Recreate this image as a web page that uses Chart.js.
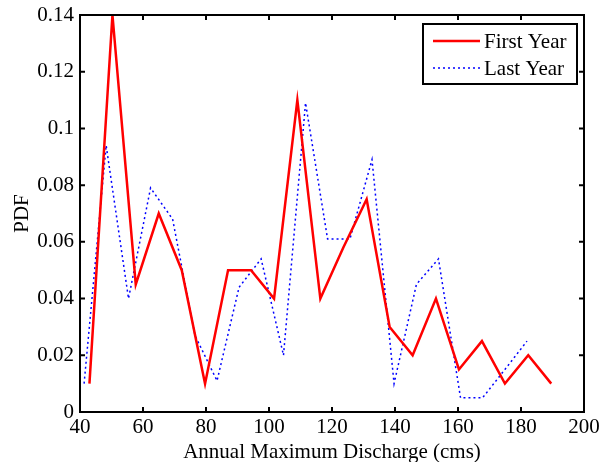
<!DOCTYPE html>
<html>
<head>
<meta charset="utf-8">
<script src="https://cdn.jsdelivr.net/npm/chart.js@4"></script>
<style>
  html, body { margin: 0; padding: 0; background: #fff; }
  #wrap { width: 604px; height: 462px; }
</style>
</head>
<body>
<div id="wrap"><canvas id="pdf-chart"></canvas></div>
<script>
// values
const firstYearX = [43, 50.3, 57.7, 65, 72.3, 79.7, 87, 94.3, 101.6, 109, 116.3, 123.6, 131, 138.3, 145.6, 153, 160.3, 167.6, 174.9, 182.3, 189.6];
const firstYearPdf = [0.01, 0.14, 0.045, 0.07, 0.05, 0.01, 0.05, 0.05, 0.04, 0.11, 0.04, 0.058, 0.075, 0.03, 0.02, 0.04, 0.015, 0.025, 0.01, 0.02, 0.01];
const lastYearX = [41.3, 48.3, 55.4, 62.4, 69.4, 76.5, 83.5, 90.5, 97.5, 104.6, 111.6, 118.6, 125.7, 132.7, 139.7, 146.8, 153.8, 160.8, 167.8, 174.9, 181.9];
const lastYearPdf = [0.01, 0.094, 0.04, 0.079, 0.068, 0.027, 0.011, 0.044, 0.054, 0.02, 0.109, 0.061, 0.061, 0.089, 0.01, 0.045, 0.054, 0.005, 0.005, 0.015, 0.025];
const xTicks = [40, 60, 80, 100, 120, 140, 160, 180, 200];
const yTicks = [0, 0.02, 0.04, 0.06, 0.08, 0.1, 0.12, 0.14];
const seriesNames = ['First Year', 'Last Year'];

const serif = '"Liberation Serif", "DejaVu Serif", serif';

const toPoints = (xs, ys) => xs.map((x, i) => ({ x: x, y: ys[i] }));

// MATLAB-like box with inward ticks and a legend in the top-right corner
const matlabFrame = {
  id: 'matlabFrame',
  afterDatasetsDraw(chart) {
    const { ctx, chartArea: a, scales } = chart;
    ctx.save();
    ctx.strokeStyle = '#000';
    ctx.lineWidth = 2;
    ctx.strokeRect(a.left, a.top, a.right - a.left, a.bottom - a.top);

    const len = 5;
    ctx.beginPath();
    xTicks.forEach(v => {
      const px = scales.x.getPixelForValue(v);
      ctx.moveTo(px, a.bottom); ctx.lineTo(px, a.bottom - len);
      ctx.moveTo(px, a.top); ctx.lineTo(px, a.top + len);
    });
    yTicks.forEach(v => {
      const py = scales.y.getPixelForValue(v);
      ctx.moveTo(a.left, py); ctx.lineTo(a.left + len, py);
      ctx.moveTo(a.right, py); ctx.lineTo(a.right - len, py);
    });
    ctx.stroke();

    // legend
    const bx = 423, by = 24, bw = 154, bh = 60;
    ctx.fillStyle = '#fff';
    ctx.fillRect(bx, by, bw, bh);
    ctx.lineWidth = 2;
    ctx.strokeRect(bx, by, bw, bh);

    chart.data.datasets.forEach((ds, i) => {
      const ly = by + 17 + i * 27;
      ctx.beginPath();
      ctx.strokeStyle = ds.borderColor;
      ctx.lineWidth = ds.borderWidth;
      ctx.setLineDash(ds.borderDash || []);
      ctx.moveTo(bx + 10, ly);
      ctx.lineTo(bx + 57, ly);
      ctx.stroke();
      ctx.setLineDash([]);
      ctx.fillStyle = '#000';
      ctx.font = '21px ' + serif;
      ctx.textBaseline = 'middle';
      ctx.textAlign = 'left';
      ctx.fillText(ds.label, bx + 61, ly + 1);
    });
    ctx.restore();
  }
};

new Chart(document.getElementById('pdf-chart').getContext('2d'), {
  type: 'line',
  data: {
    datasets: [{
      label: seriesNames[0],
      data: toPoints(firstYearX, firstYearPdf),
      borderColor: '#ff0000',
      borderWidth: 2.5,
      pointRadius: 0,
      tension: 0
    }, {
      label: seriesNames[1],
      data: toPoints(lastYearX, lastYearPdf),
      borderColor: '#0000ff',
      borderWidth: 1.5,
      borderDash: [2, 3],
      pointRadius: 0,
      tension: 0
    }]
  },
  options: {
    responsive: true,
    maintainAspectRatio: false,
    animation: false,
    layout: { padding: { top: 15, right: 20, left: 0, bottom: 0 } },
    plugins: { legend: { display: false }, tooltip: { enabled: false } },
    scales: {
      x: {
        type: 'linear',
        min: 40, max: 200,
        afterBuildTicks: s => { s.ticks = xTicks.map(v => ({ value: v })); },
        afterFit: s => { s.height = 50; },
        grid: { display: false },
        border: { display: false },
        ticks: { color: '#000', font: { family: serif, size: 21 }, padding: -5, maxRotation: 0 },
        title: { display: true, text: 'Annual Maximum Discharge (cms)', color: '#000', font: { family: serif, size: 21 }, padding: { top: 0, bottom: -3 } }
      },
      y: {
        min: 0, max: 0.14,
        afterBuildTicks: s => { s.ticks = yTicks.map(v => ({ value: v })); },
        afterFit: s => { s.width = 80; },
        grid: { display: false },
        border: { display: false },
        ticks: { color: '#000', font: { family: serif, size: 21 }, padding: -2, callback: v => String(v) },
        title: { display: true, text: 'PDF', color: '#000', font: { family: serif, size: 21 }, padding: { top: 10, bottom: 0 } }
      }
    }
  },
  plugins: [matlabFrame]
});
</script>
</body>
</html>
